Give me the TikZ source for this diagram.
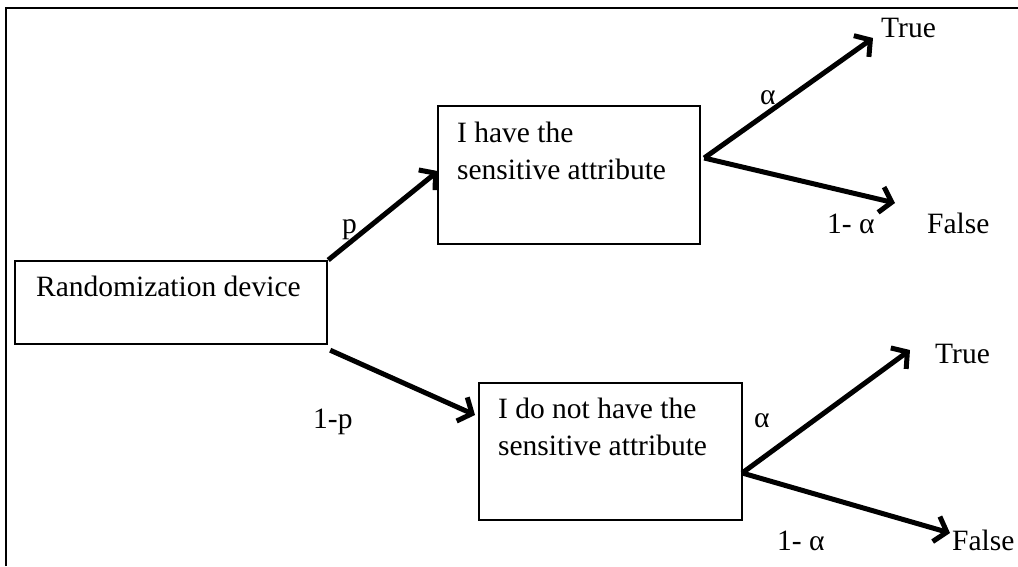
\documentclass[tikz,border=0pt]{standalone}
\usepackage{fontspec}
\setmainfont{Liberation Serif}
\usetikzlibrary{arrows.meta,calc}
\begin{document}
\begin{tikzpicture}[x=1pt,y=-1pt,
  every node/.style={font=\fontsize{29.5}{37.5}\selectfont},
  boxnode/.style={draw,line width=2.2pt,inner sep=0pt,anchor=north west},
  lbl/.style={inner sep=0pt,anchor=base west},
  branch/.style={line width=5pt,-{Straight Barb[length=11pt,width=26pt]}}]
\useasboundingbox (0,0) rectangle (1018,566);
% outer frame (left and top edges only visible)
\draw[line width=2.2pt] (6,566) -- (6,8) -- (1018,8);
% boxes
\node[boxnode] (rand) at (14,260) {\parbox[t][83pt][t]{312pt}{\raggedright\leftskip=21pt\rule{0pt}{35pt}Randomization device}};
\node[boxnode] (up) at (437,105) {\parbox[t][138pt][t]{262pt}{\raggedright\leftskip=19pt\rule{0pt}{36pt}I have the\\sensitive attribute}};
\node[boxnode] (low) at (478,382) {\parbox[t][137pt][t]{263pt}{\raggedright\leftskip=19pt\rule{0pt}{35pt}I do not have the\\sensitive attribute}};
% free ends
\coordinate (uT) at (873,38);
\coordinate (uF) at (895,203);
\coordinate (lT) at (910,350);
\coordinate (lF) at (950,533);
% labels
\node[lbl] (p) at (342,233) {p};
\node[lbl] (q) at (313,428) {1-p};
\node[lbl] (ua) at (760,104) {α};
\node[lbl] (uma) at (827,233) {1- α};
\node[lbl] (utrue) at (881,37) {True};
\node[lbl] (ufalse) at (927,233) {False};
\node[lbl] (la) at (754,427) {α};
\node[lbl] (lma) at (777,550) {1- α};
\node[lbl] (ltrue) at (935,363) {True};
\node[lbl] (lfalse) at (952,550) {False};
% connectors
\draw[branch] (rand.north east) -- ([shift={(1,-4)}]up.west);
\draw[branch] ([shift={(2,5)}]rand.south east) -- ([shift={(-3,33)}]low.north west);
\draw[branch] ([shift={(3,53)}]up.north east) -- (uT);
\draw[branch] ([shift={(3,53)}]up.north east) -- (uF);
\draw[branch] ([shift={(-1,91)}]low.north east) -- (lT);
\draw[branch] ([shift={(-1,91)}]low.north east) -- (lF);
\end{tikzpicture}
\end{document}
